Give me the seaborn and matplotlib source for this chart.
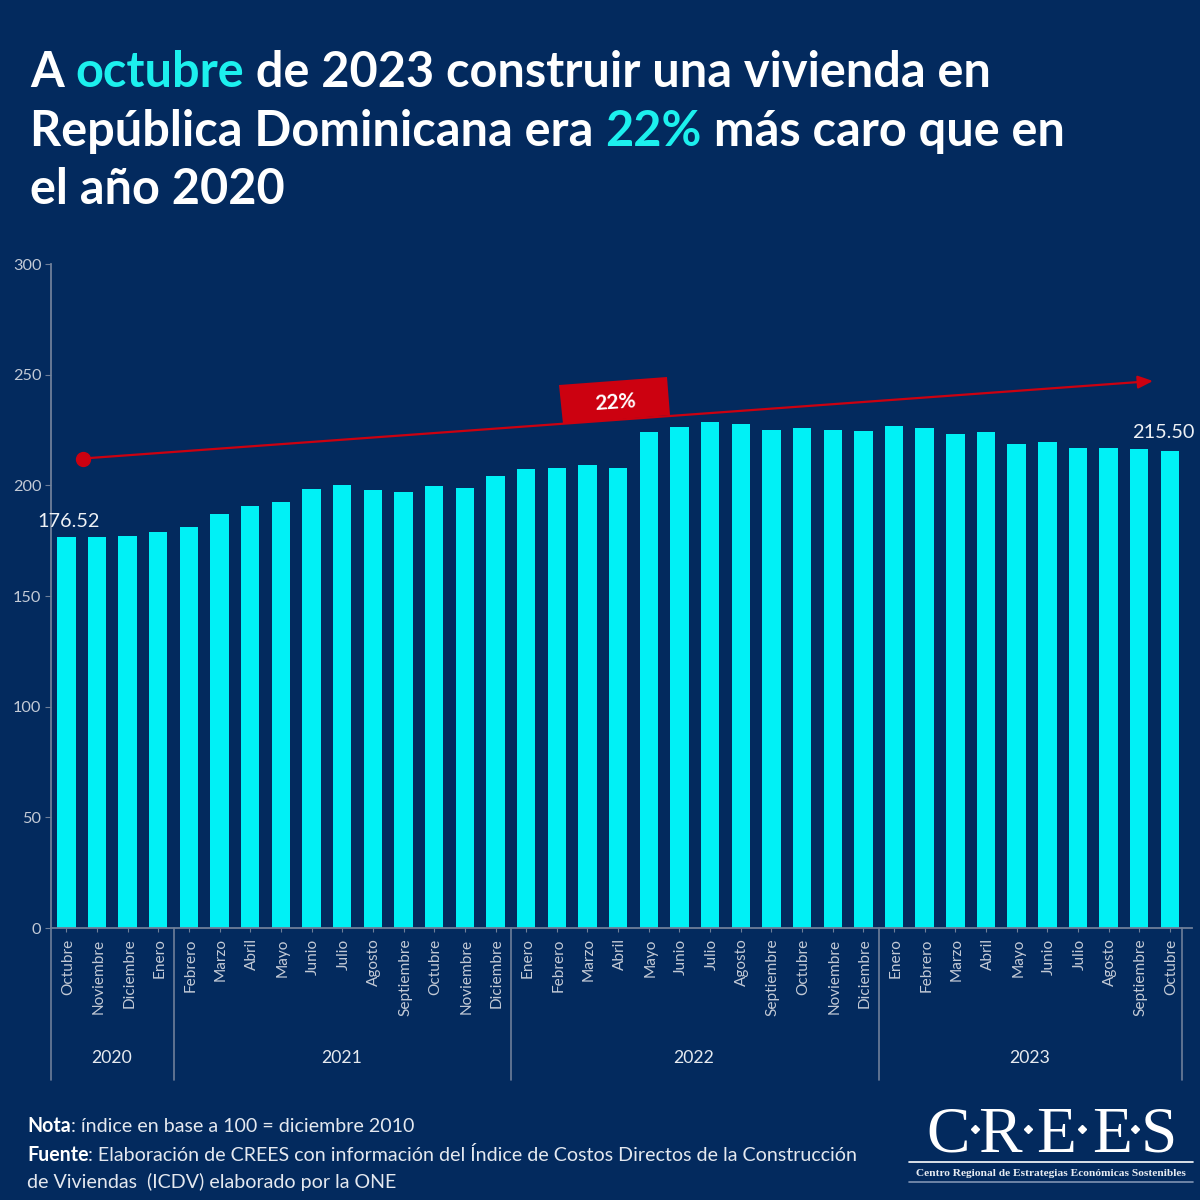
import matplotlib
matplotlib.use("Agg")
import matplotlib.pyplot as plt
from matplotlib.patches import Polygon
from matplotlib.transforms import Affine2D, ScaledTranslation
import seaborn as sns
import pandas as pd

months = ["Octubre", "Noviembre", "Diciembre", "Enero", "Febrero", "Marzo", "Abril", "Mayo", "Junio", "Julio",
          "Agosto", "Septiembre", "Octubre", "Noviembre", "Diciembre", "Enero", "Febrero", "Marzo", "Abril",
          "Mayo", "Junio", "Julio", "Agosto", "Septiembre", "Octubre", "Noviembre", "Diciembre", "Enero",
          "Febrero", "Marzo", "Abril", "Mayo", "Junio", "Julio", "Agosto", "Septiembre", "Octubre"]
values = [176.52, 176.6, 177.0, 179.0, 181.0, 187.0, 190.5, 192.5, 198.5, 200.0, 198.0, 197.0, 199.5,
          199.0, 204.0, 207.5, 208.0, 209.0, 208.0, 224.0, 226.5, 228.5, 227.5, 225.0, 226.0, 225.0,
          224.5, 227.0, 226.0, 223.0, 224.0, 218.5, 219.5, 217.0, 217.0, 216.5, 215.5]
years = ["2020", "2021", "2022", "2023"]
year_edges = [-0.5, 3.5, 14.5, 26.5, 36.4]
yticks = [0, 50, 100, 150, 200, 250, 300]
label_idx = [0, 36]
label_txt = ["176.52", "215.50"]

BG = "#032a5e"
CYAN = "#00f1f6"
ACC = "#1cf0ee"
RED = "#cc0110"
GREY = "#c3cad6"
AXC = "#6f7f99"

sns.set_theme(style="white")
plt.rcParams["font.family"] = ["Lato", "DejaVu Sans"]

fig = plt.figure(figsize=(12, 12), dpi=100, facecolor=BG)
ax = fig.add_axes([51 / 1200, 1 - 928 / 1200, (1192 - 51) / 1200, (928 - 264) / 1200], facecolor="none")

df = pd.DataFrame({"i": range(len(values)), "v": values})
sns.barplot(data=df, x="i", y="v", color=CYAN, saturation=1, width=0.6, linewidth=0, edgecolor="none", ax=ax, zorder=2)
ax.set_xlim(-0.5, 36.72)
ax.set_ylim(0, 300)
ax.set_xlabel("")
ax.set_ylabel("")
ax.set_yticks(yticks)
ax.set_xticks(range(len(months)))
ax.set_xticklabels(months, rotation=90, fontsize=11.1, color=GREY)
ax.tick_params(axis="x", length=3, width=0.8, color=AXC, pad=4.5, bottom=True)
ax.tick_params(axis="y", length=4, width=0.8, color=AXC, pad=3, labelsize=11.7, labelcolor=GREY, left=True)
nudge = ScaledTranslation(1.5 / 100, 0, fig.dpi_scale_trans)
for lab in ax.get_xticklabels():
    lab.set_transform(lab.get_transform() + nudge)
sns.despine(ax=ax)
for s in ("left", "bottom"):
    ax.spines[s].set_color(AXC)
    ax.spines[s].set_linewidth(1.3)

pix = Affine2D().scale(1 / 1200, -1 / 1200).translate(0, 1) + fig.transFigure


def rich(x, y, parts, size):
    """Draw differently styled runs side by side; baseline y in px."""
    r = fig.canvas.get_renderer()
    for s, color, weight in parts:
        t = fig.text(x / 1200, 1 - y / 1200, s, color=color, fontsize=size, fontweight=weight, va="baseline", ha="left")
        w, _, _ = r.get_text_width_height_descent(s.replace(" ", "\u00a0"), t.get_fontproperties(), False)
        x += w


rich(30, 87, [("A ", "white", "bold"), ("octubre", ACC, "bold"), (" de 2023 construir una vivienda en", "white", "bold")], 35)
rich(30, 146, [("República Dominicana era ", "white", "bold"), ("22%", ACC, "bold"), (" más caro que en", "white", "bold")], 35)
rich(30, 204, [("el año 2020", "white", "bold")], 35)

# year separators and labels below the axis
sep = ax.get_xaxis_transform()
ybot = -(1080 - 928) / (928 - 264)
for e in year_edges:
    ax.plot([e, e], [0, ybot], transform=sep, clip_on=False, color=AXC, lw=1.2)
for k, yr in enumerate(years):
    ax.text((year_edges[k] + year_edges[k + 1]) / 2 - 0.03, -(1058 - 928) / (928 - 264), yr, transform=sep,
            ha="center", va="center", fontsize=12.7, color="#e6eaf0")

# value labels
for i, s, dx, dy in zip(label_idx, label_txt, [0.08, -0.23], [4.5, 5.9]):
    ax.text(i + dx, values[i] + dy, s, ha="center", va="baseline", fontsize=14.3, color="#eef1f5", zorder=4)

# trend arrow (an annotation placed in figure pixels, not a data mark)
ax.annotate("", xy=(1153, 381), xytext=(83, 458.5), xycoords=pix, textcoords=pix,
            arrowprops=dict(arrowstyle="-|>,head_length=0.75,head_width=0.32", color=RED, lw=1.6, shrinkA=0, shrinkB=0), zorder=5)
ax.plot([83], [458.5], "o", transform=pix, clip_on=False, color=RED, ms=10, zorder=6)
fig.add_artist(Polygon([(559, 385), (667, 377), (670, 415), (563, 424)], closed=True, transform=pix, facecolor=RED, edgecolor="none"))
fig.text(615.5 / 1200, 1 - 402.5 / 1200, "22%", color="white", fontsize=15, fontweight="bold", ha="center", va="center", rotation=4)

# footer
rich(27, 1132, [("Nota", "white", "bold"), (": índice en base a 100 = diciembre 2010", "#e4e8ef", "normal")], 14.1)
rich(27, 1161, [("Fuente", "white", "bold"), (": Elaboración de CREES con información del Índice de Costos Directos de la Construcción", "#e4e8ef", "normal")], 14.1)
rich(27, 1188, [("de Viviendas  (ICDV) elaborado por la ONE", "#e4e8ef", "normal")], 14.1)

# logo
SERIF = ["Liberation Serif", "DejaVu Serif"]
for ch, cx in zip("CREES", [948, 1000, 1056, 1112, 1159]):
    fig.text(cx / 1200, 1 - 1152 / 1200, ch, color="white", fontsize=47, family=SERIF, ha="center", va="baseline")
fig.add_artist(plt.Line2D([975, 1028, 1082, 1135], [1129] * 4, transform=pix, color="white", marker="D", ms=3.6, lw=0))
fig.add_artist(plt.Line2D([909, 1193], [1162, 1162], transform=pix, color="white", lw=1.2))
fig.add_artist(plt.Line2D([909, 1193], [1182, 1182], transform=pix, color="#7f93b3", lw=1.2))
fig.text(1051 / 1200, 1 - 1173 / 1200, "Centro Regional de Estrategias Económicas Sostenibles", color="#e8ecf2",
         fontsize=8.2, fontweight="bold", family=SERIF, ha="center", va="center")

fig.savefig("out.png", dpi=100, facecolor=BG)
